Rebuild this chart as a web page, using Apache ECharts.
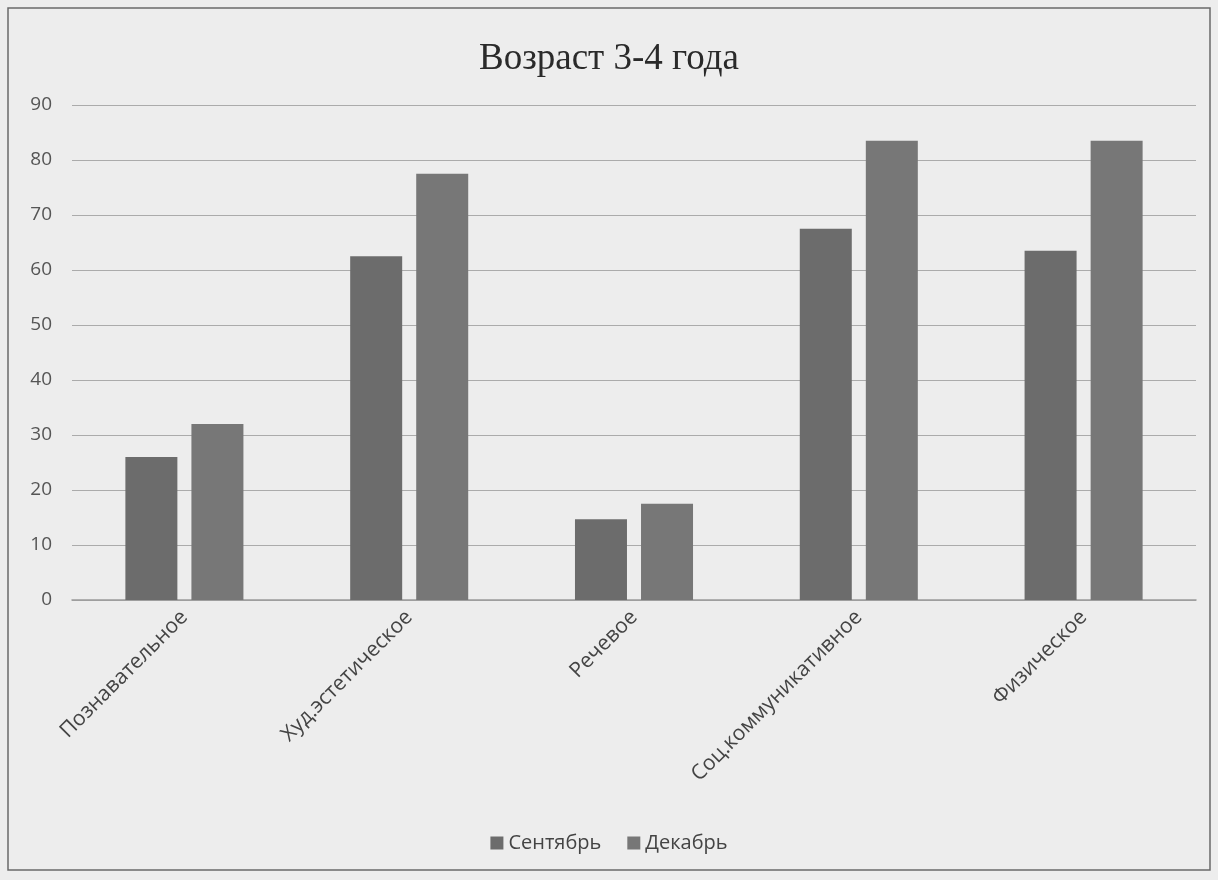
<!DOCTYPE html>
<html><head><meta charset="utf-8">
<script src="https://cdn.jsdelivr.net/npm/echarts@6/dist/echarts.min.js"></script>
<style>html,body{margin:0;padding:0;background:#ededed}#c{width:1218px;height:880px}</style>
</head><body><div id="c"></div>
<script>
const title = 'Возраст 3-4 года';
const categories = ['Познавательное', 'Худ.эстетическое', 'Речевое', 'Соц.коммуникативное', 'Физическое'];
const seriesNames = ['Сентябрь', 'Декабрь'];
const september = [26, 62.5, 14.7, 67.5, 63.5];
const december = [32, 77.5, 17.5, 83.5, 83.5];
const yTicks = {min: 0, max: 90, interval: 10};

const chart = echarts.init(document.getElementById('c'), null, {renderer: 'canvas'});
const font = '"Open Sans", "DejaVu Sans", sans-serif';
chart.setOption({
  backgroundColor: '#ededed',
  animation: false,
  graphic: [{type: 'rect', shape: {x: 8, y: 8, width: 1202, height: 862}, style: {fill: 'none', stroke: '#6a6a6a', lineWidth: 1.5}}],
  title: {text: title, left: 'center', top: 36, textStyle: {fontFamily: '"Liberation Serif", "DejaVu Serif", serif', fontSize: 37, fontWeight: 'normal', color: '#2a2a2a'}},
  legend: {data: seriesNames, bottom: 22, left: 'center', itemWidth: 13, itemHeight: 13, itemGap: 26, icon: 'rect',
    textStyle: {fontFamily: font, fontSize: 20, color: '#444'}},
  grid: {left: 72, right: 22, top: 105, bottom: 280, containLabel: false},
  xAxis: {type: 'category', data: categories,
    axisLine: {lineStyle: {color: '#9a9a9a', width: 1.5}}, axisTick: {show: false},
    axisLabel: {rotate: 45, fontFamily: font, fontSize: 21, color: '#444', margin: 14, interval: 0}},
  yAxis: {type: 'value', min: yTicks.min, max: yTicks.max, interval: yTicks.interval,
    axisLine: {show: false}, axisTick: {show: false},
    axisLabel: {fontFamily: font, fontSize: 19, color: '#555', margin: 20},
    splitLine: {lineStyle: {color: '#ababab', width: 1.2}}},
  series: [
    {name: seriesNames[0], type: 'bar', data: september, barWidth: 52, barGap: '27%', itemStyle: {color: '#6c6c6c'}},
    {name: seriesNames[1], type: 'bar', data: december, barWidth: 52, itemStyle: {color: '#777777'}}
  ]
});
</script></body></html>
